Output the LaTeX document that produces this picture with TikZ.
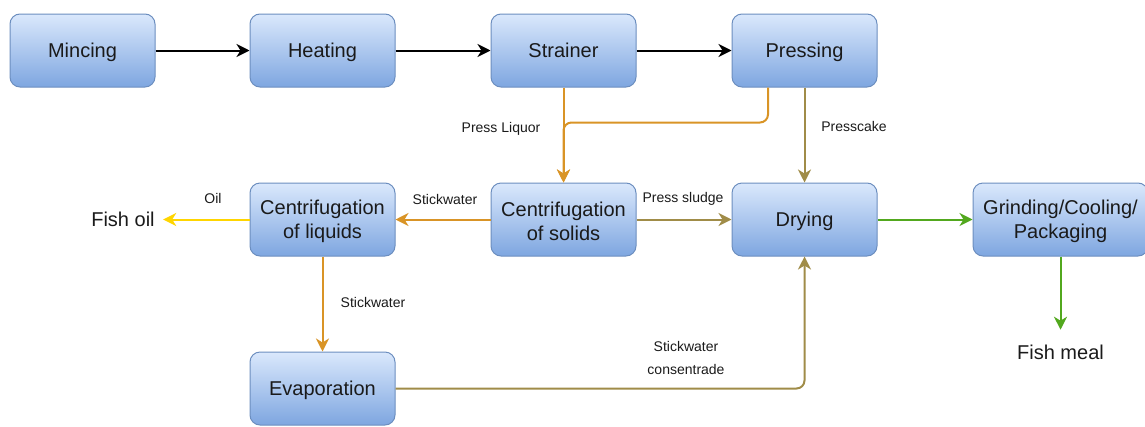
\documentclass[tikz,border=0pt]{standalone}
\usepackage{fontspec}
\setmainfont{Liberation Sans}
\usetikzlibrary{arrows.meta}

\definecolor{boxtop}{HTML}{DAE8FC}
\definecolor{boxbot}{HTML}{7EA6E0}
\definecolor{boxline}{HTML}{6C8EBF}
\definecolor{txt}{HTML}{1A1A1A}
\definecolor{liquor}{HTML}{D99426}
\definecolor{cake}{HTML}{A08C48}
\definecolor{oil}{HTML}{FFD500}
\definecolor{meal}{HTML}{52A81E}

\begin{document}
\begin{tikzpicture}[x=1pt,y=-1pt,
		stage/.style={draw=boxline,line width=1pt,rounded corners=10pt,top color=boxtop,bottom color=boxbot,
			minimum width=145pt,minimum height=73pt,align=center,text=txt,font=\fontsize{20}{24}\selectfont},
		oneline/.style={text height=17.9pt,text depth=3.6pt},
		twoline/.style={text height=42.5pt},
		lbl/.style={text=txt,font=\fontsize{14}{17}\selectfont,inner sep=0pt},
		outlet/.style={text=txt,font=\fontsize{20}{24}\selectfont},
		flow/.style={line width=2pt,-{Stealth[length=13pt,width=13pt,inset=4pt]}}]
		\useasboundingbox (0,0) rectangle (1145,426);
		
		%process steps
		\node[stage,oneline] (mince) at (82.5,50.5) {Mincing};
		\node[stage,oneline] (heat) at (322.5,50.5) {Heating};
		\node[stage,oneline] (strain) at (563.5,50.5) {Strainer};
		\node[stage,oneline] (press) at (804.5,50.5) {Pressing};
		\node[stage,twoline] (liquids) at (322.5,219.5) {Centrifugation\\of liquids};
		\node[stage,twoline] (solids) at (563.5,219.5) {Centrifugation\\of solids};
		\node[stage,oneline] (dry) at (804.5,219.5) {Drying};
		\node[stage,twoline,minimum width=175pt] (grind) at (1060.5,219.5) {Grinding/Cooling/\\Packaging};
		\node[stage,oneline] (evap) at (322.5,388.5) {Evaporation};
		
		%products
		\node[outlet,oneline] (fishoil) at (123,219.5) {Fish oil};
		\node[outlet,oneline] (fishmeal) at (1060.5,352) {Fish meal};
		
		%main line
		\draw[flow,black] (mince) -- (heat);
		\draw[flow,black] (heat) -- (strain);
		\draw[flow,black] (strain) -- (press);
		
		%liquid side
		\draw[flow,liquor] (strain) -- (solids);
		\draw[flow,liquor,rounded corners=8pt] ([xshift=-36.5pt]press.south) -- ++(0,35) -| (solids.north);
		\draw[flow,liquor] (solids) -- (liquids);
		\draw[flow,liquor] (liquids) -- (evap);
		\draw[flow,oil,shorten >=5pt] (liquids.west) -- (liquids.west -| fishoil.east);
		
		%solid side
		\draw[flow,cake] (press) -- (dry);
		\draw[flow,cake] (solids) -- (dry);
		\draw[flow,cake,rounded corners=8pt] (evap.east) -| (dry.south);
		\draw[flow,meal] (dry) -- (grind);
		\draw[flow,meal,shorten >=8pt] (grind.south) -- (grind.south |- fishmeal.north);
		
		%labels
		\node[lbl] (lliquor) at (501,129) {Press Liquor};
		\node[lbl] (lcake) at (854,126) {Presscake};
		\node[lbl] (lstick) at (445,199) {Stickwater};
		\node[lbl] (loil) at (213,198) {Oil};
		\node[lbl] (lsludge) at (683,199) {Press sludge};
		\node[lbl] (lstick2) at (373,302) {Stickwater};
		\node[lbl,align=center,font=\fontsize{14}{23}\selectfont] (lconc) at (686,358) {Stickwater\\consentrade};
\end{tikzpicture}
\end{document}
